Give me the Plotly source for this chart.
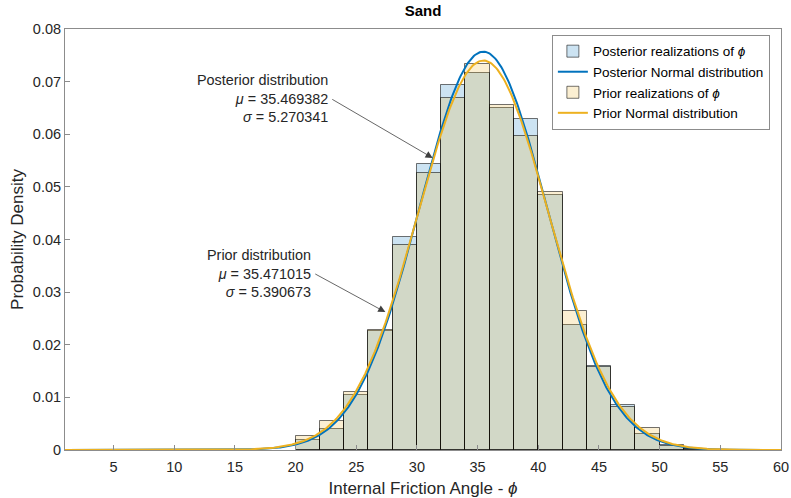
import numpy as np
import plotly.graph_objects as go

# Histogram bins (width 2), left edges
bin_left = [20, 22, 24, 26, 28, 30, 32, 34, 36, 38, 40, 42, 44, 46, 48, 50, 52]
post_hist = [0.0019, 0.0039, 0.0105, 0.0226, 0.0404, 0.0543, 0.0694, 0.0717, 0.0650,
             0.0629, 0.0485, 0.0237, 0.0159, 0.0086, 0.0031, 0.0009, 0.0002]
prior_hist = [0.0027, 0.0056, 0.0111, 0.0228, 0.0389, 0.0526, 0.0669, 0.0734, 0.0656,
              0.0596, 0.0490, 0.0265, 0.0157, 0.0081, 0.0041, 0.0008, 0.0002]
bin_width = 2

# Normal distribution parameters (as printed on the chart)
post_mu, post_sigma = 35.469382, 5.270341
prior_mu, prior_sigma = 35.471015, 5.390673

x_ticks = [5, 10, 15, 20, 25, 30, 35, 40, 45, 50, 55, 60]
y_ticks = [0, 0.01, 0.02, 0.03, 0.04, 0.05, 0.06, 0.07, 0.08]
y_tick_labels = ["0", "0.01", "0.02", "0.03", "0.04", "0.05", "0.06", "0.07", "0.08"]

xs = np.linspace(1, 60, 600)


def npdf(x, mu, s):
    return np.exp(-0.5 * ((x - mu) / s) ** 2) / (s * np.sqrt(2 * np.pi))


centers = [b + bin_width / 2 for b in bin_left]
edge = "rgba(0,0,0,0.55)"
FONT = "Liberation Sans, Arial, sans-serif"

fig = go.Figure()
fig.add_trace(go.Bar(x=centers, y=post_hist, width=bin_width,
                     marker=dict(color="rgba(0,114,189,0.2)", line=dict(color=edge, width=1)),
                     name="Posterior realizations of <i>ϕ</i>"))
fig.add_trace(go.Scatter(x=xs, y=npdf(xs, post_mu, post_sigma), mode="lines",
                         line=dict(color="#0072BD", width=2),
                         name="Posterior Normal distribution"))
fig.add_trace(go.Bar(x=centers, y=prior_hist, width=bin_width,
                     marker=dict(color="rgba(237,177,32,0.2)", line=dict(color=edge, width=1)),
                     name="Prior realizations of <i>ϕ</i>"))
fig.add_trace(go.Scatter(x=xs, y=npdf(xs, prior_mu, prior_sigma), mode="lines",
                         line=dict(color="#EDB120", width=2),
                         name="Prior Normal distribution"))

# Annotations: arrows
fig.add_annotation(x=31.3, y=0.0555, ax=22.9, ay=0.0668, xref="x", yref="y",
                   axref="x", ayref="y", text="", showarrow=True,
                   arrowhead=2, arrowsize=1.8, arrowwidth=0.8, arrowcolor="#404040")
fig.add_annotation(x=27.4, y=0.0262, ax=21.5, ay=0.0336, xref="x", yref="y",
                   axref="x", ayref="y", text="", showarrow=True,
                   arrowhead=2, arrowsize=1.8, arrowwidth=0.8, arrowcolor="#404040")

fig.add_annotation(x=22.85, y=0.0668, xref="x", yref="y", xanchor="right", yanchor="middle",
                   yshift=-0.5, align="right", showarrow=False,
                   text=("Posterior distribution<br><i>μ</i> = " + f"{post_mu:.6f}" +
                         "<br><i>σ</i> = " + f"{post_sigma:.6f}"),
                   font=dict(family=FONT, size=14.4, color="#262626"))
fig.add_annotation(x=21.45, y=0.0336, xref="x", yref="y", xanchor="right", yanchor="middle",
                   yshift=-0.5, align="right", showarrow=False,
                   text=("Prior distribution<br><i>μ</i> = " + f"{prior_mu:.6f}" +
                         "<br><i>σ</i> = " + f"{prior_sigma:.6f}"),
                   font=dict(family=FONT, size=14.4, color="#262626"))

axis_common = dict(showline=True, mirror=True, linecolor="#8c8c8c", linewidth=1,
                   ticks="inside", ticklen=5, tickcolor="#8c8c8c", showgrid=False,
                   zeroline=False, automargin=False,
                   tickfont=dict(family=FONT, size=14.5, color="#262626"))

fig.update_layout(
    width=791, height=498,
    margin=dict(l=65, r=10, t=29, b=48, autoexpand=False),
    plot_bgcolor="white", paper_bgcolor="white",
    barmode="overlay", bargap=0,
    title=dict(text="<b>Sand</b>", x=(65 + 716 / 2) / 791, xanchor="center",
               y=0.978, yanchor="middle", font=dict(family=FONT, size=15, color="#000000")),
    xaxis=dict(range=[1, 60], tickvals=x_ticks, ticklabelstandoff=4,
               title=dict(text="Internal Friction Angle - <i>ϕ</i>", standoff=8,
                          font=dict(family=FONT, size=17, color="#262626")),
               **axis_common),
    yaxis=dict(range=[0, 0.08], tickvals=y_ticks, ticktext=y_tick_labels,
               title=dict(text="Probability Density", standoff=4,
                          font=dict(family=FONT, size=17, color="#262626")),
               **axis_common),
    legend=dict(x=0.68, y=0.986, xanchor="left", yanchor="top",
                bordercolor="#8c8c8c", borderwidth=1, bgcolor="white",
                font=dict(family=FONT, size=13.5, color="#000000"),
                tracegroupgap=0, itemwidth=30),
    showlegend=True,
)

fig.write_html("out.html")
